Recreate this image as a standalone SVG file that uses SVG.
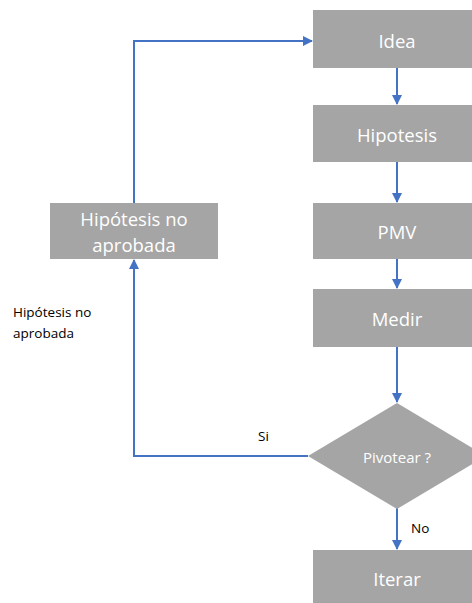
<svg xmlns="http://www.w3.org/2000/svg" width="472" height="603" viewBox="0 0 472 603">
  <style>
    .box { fill: #a5a5a5; }
    .lbl { fill: #ffffff; font-family: "Open Sans", "Noto Sans", sans-serif; font-size: 18.5px; text-anchor: middle; dominant-baseline: central; }
    .note { fill: #000000; font-family: "Open Sans", "Noto Sans", sans-serif; font-size: 13.5px; }
    .edge { fill: none; stroke: #4472c4; stroke-width: 2; }
  </style>
  <defs>
    <marker id="arrow" viewBox="0 0 10 10" refX="9" refY="5" markerWidth="5" markerHeight="5" orient="auto" markerUnits="strokeWidth">
      <path d="M0,0 L10,5 L0,10 z" fill="#4472c4"/>
    </marker>
  </defs>

  <rect width="472" height="603" fill="#ffffff"/>

  <g id="connectors">
    <line class="edge" x1="397" y1="68" x2="397" y2="104" marker-end="url(#arrow)"/>
    <line class="edge" x1="397" y1="162" x2="397" y2="202" marker-end="url(#arrow)"/>
    <line class="edge" x1="397" y1="259" x2="397" y2="288" marker-end="url(#arrow)"/>
    <line class="edge" x1="397" y1="347" x2="397" y2="402" marker-end="url(#arrow)"/>
    <line class="edge" x1="397" y1="508" x2="397" y2="549" marker-end="url(#arrow)"/>
    <polyline class="edge" points="308,456 134,456 134,260" marker-end="url(#arrow)"/>
    <polyline class="edge" points="134,203 134,41 312,41" marker-end="url(#arrow)"/>
  </g>

  <g id="idea">
    <rect class="box" x="313" y="10" width="168" height="58"/>
    <text class="lbl" x="397" y="40">Idea</text>
  </g>
  <g id="hipotesis">
    <rect class="box" x="313" y="105" width="168" height="57"/>
    <text class="lbl" x="397" y="134">Hipotesis</text>
  </g>
  <g id="pmv">
    <rect class="box" x="313" y="203" width="168" height="56"/>
    <text class="lbl" x="397" y="231">PMV</text>
  </g>
  <g id="medir">
    <rect class="box" x="313" y="289" width="168" height="58"/>
    <text class="lbl" x="397" y="318">Medir</text>
  </g>
  <g id="pivotear">
    <polygon class="box" points="397,403 486,456 397,509 308,456"/>
    <text class="lbl" x="397" y="457" style="font-size:15px">Pivotear ?</text>
  </g>
  <g id="iterar">
    <rect class="box" x="313" y="550" width="168" height="56"/>
    <text class="lbl" x="397" y="578">Iterar</text>
  </g>
  <g id="no-aprobada">
    <rect class="box" x="50" y="203" width="168" height="56"/>
    <text class="lbl" x="134" y="218">Hipótesis no</text>
    <text class="lbl" x="134" y="244">aprobada</text>
  </g>

  <g id="labels">
    <text class="note" x="13" y="317">Hipótesis no</text>
    <text class="note" x="13" y="338">aprobada</text>
    <text class="note" x="258" y="441">Si</text>
    <text class="note" x="411" y="533">No</text>
  </g>
</svg>
